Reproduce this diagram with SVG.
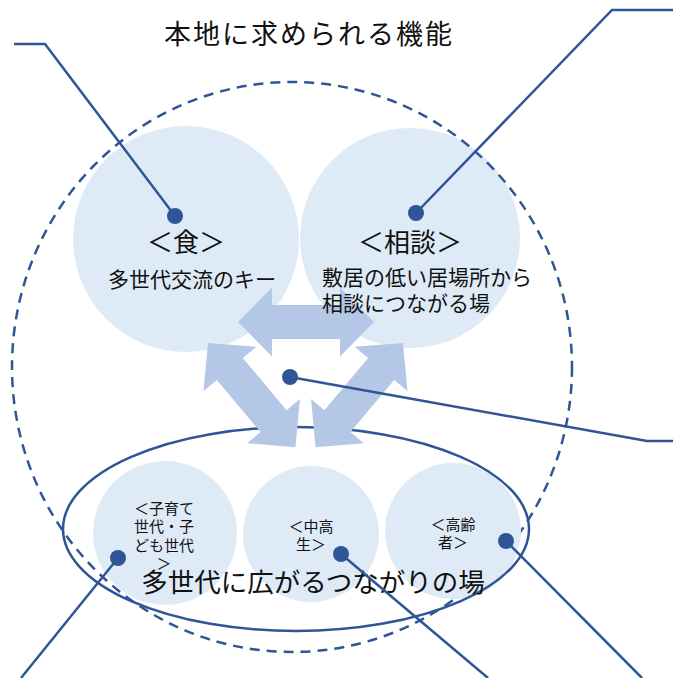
<svg xmlns="http://www.w3.org/2000/svg" width="673" height="678" viewBox="0 0 673 678">
<defs>
<style>
.circle{fill:#DEEBF7;}
.arrow{fill:#B4C7E7;}
.dash{fill:none;stroke:#2F5597;stroke-width:2.5;stroke-dasharray:10 7;}
.solid{fill:none;stroke:#2F5597;stroke-width:2.5;}
.leader{fill:none;stroke:#2F5597;stroke-width:2.5;}
.dot{fill:#2F5597;}
text{font-family:"Noto Sans CJK JP","Noto Sans",sans-serif;fill:#111;}
.t26{font-size:26px;text-anchor:middle;}
.t21{font-size:21px;}
.t15{font-size:15px;text-anchor:middle;}
</style>
<path id="dblArrow" d="M0,0 L34,-34.5 L34,-17 L102,-17 L102,-34.5 L136,0 L102,34.5 L102,17 L34,17 L34,34.5 Z"/>
</defs>
<rect width="673" height="678" fill="#FFFFFF"/>
<text id="title" x="164" y="44" style="font-size:27px;letter-spacing:2px;">本地に求められる機能</text>
<g id="node-shoku">
<circle class="circle" cx="186" cy="239" r="113"/>
</g>
<g id="node-soudan">
<circle class="circle" cx="410" cy="238" r="110"/>
</g>
<g id="outer-dashed">
<ellipse class="dash" cx="292" cy="367" rx="280" ry="285"/>
</g>
<g id="node-kosodate">
<circle class="circle" cx="165" cy="533" r="72"/>
</g>
<g id="node-chukou">
<circle class="circle" cx="311" cy="534" r="68"/>
</g>
<g id="node-koureisha">
<circle class="circle" cx="453" cy="531" r="68"/>
</g>
<g id="node-tasedai">
<ellipse class="solid" cx="296" cy="529" rx="233" ry="102"/>
</g>
<g id="arrows">
<use href="#dblArrow" class="arrow" transform="translate(238,322)"/>
<use href="#dblArrow" class="arrow" transform="translate(208,343) rotate(50)"/>
<use href="#dblArrow" class="arrow" transform="translate(403,343) rotate(130)"/>
</g>
<g id="labels">
<text class="t26" x="186" y="252">＜食＞</text>
<text class="t21" x="108" y="287">多世代交流のキー</text>
<text class="t26" x="410" y="252">＜相談＞</text>
<text class="t21" x="322" y="285">敷居の低い居場所から</text>
<text class="t21" x="322" y="311">相談につながる場</text>
<text class="t15" x="164" y="514">＜子育て</text>
<text class="t15" x="164" y="532">世代・子</text>
<text class="t15" x="164" y="551">ども世代</text>
<text class="t15" x="164" y="569">＞</text>
<text class="t15" x="311" y="532">＜中高</text>
<text class="t15" x="311" y="550">生＞</text>
<text class="t15" x="453" y="530">＜高齢</text>
<text class="t15" x="453" y="548">者＞</text>
<text x="313" y="592" style="font-size:26.5px;text-anchor:middle;">多世代に広がるつながりの場</text>
</g>
<g id="connectors">
<polyline class="leader" points="14,44 45,44 175,216"/>
<polyline class="leader" points="673,10 612,10 416,213"/>
<polyline class="leader" points="290,377 647,441 673,441"/>
<line class="leader" x1="118" y1="558" x2="21" y2="678"/>
<line class="leader" x1="341" y1="554" x2="488" y2="678"/>
<line class="leader" x1="506" y1="541" x2="642" y2="678"/>
<circle class="dot" cx="175" cy="216" r="8"/>
<circle class="dot" cx="416" cy="213" r="8"/>
<circle class="dot" cx="290" cy="377" r="8"/>
<circle class="dot" cx="118" cy="558" r="8"/>
<circle class="dot" cx="341" cy="554" r="8"/>
<circle class="dot" cx="506" cy="541" r="8"/>
</g>
</svg>
